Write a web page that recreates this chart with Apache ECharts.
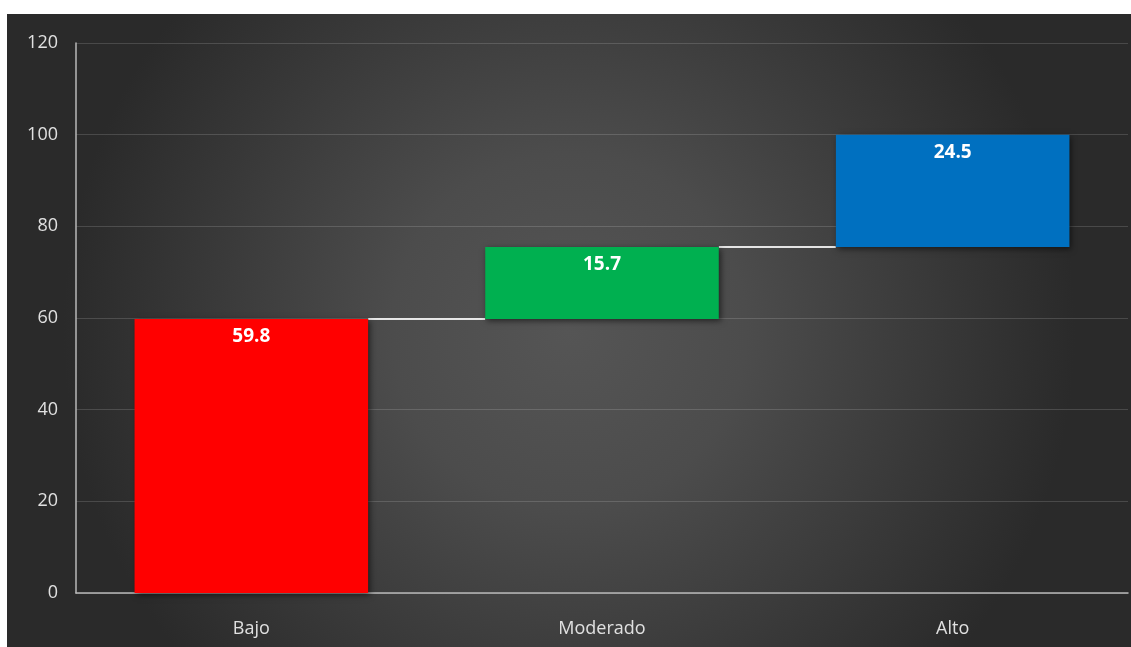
<!DOCTYPE html>
<html>
<head>
<meta charset="utf-8">
<script src="https://cdn.jsdelivr.net/npm/echarts@6/dist/echarts.min.js"></script>
<style>
  html, body { margin: 0; padding: 0; background: #ffffff; }
  #chart { position: absolute; left: 7px; top: 14px; width: 1124px; height: 633px; }
</style>
</head>
<body>
<div id="chart"></div>
<script>
// 数据
var categories = ['Bajo', 'Moderado', 'Alto'];
var values = [59.8, 15.7, 24.5];
var barColors = ['#ff0000', '#00b050', '#0070c0'];
var yTicks = [0, 20, 40, 60, 80, 100, 120];

// 瀑布图底座（累计值）
var base = [];
var sum = 0;
for (var i = 0; i < values.length; i++) {
  base.push(sum);
  sum += values[i];
}
// 连接线：每根柱子顶部
var connectors = [];
for (var j = 0; j < values.length - 1; j++) {
  connectors.push([j, base[j] + values[j]]);
}

function initChart() {
  var myChart = echarts.init(document.getElementById('chart'));
  var font = '"Open Sans", "Noto Sans", sans-serif';
  var option = {
    backgroundColor: new echarts.graphic.RadialGradient(0.5, 0.5, 0.8, [
      { offset: 0, color: '#555555' },
      { offset: 0.35, color: '#4c4c4c' },
      { offset: 1, color: '#2a2a2a' }
    ]),
    animation: false,
    grid: { left: 69, top: 29, right: 3, bottom: 54 },
    xAxis: {
      type: 'category',
      data: categories,
      axisTick: { show: false },
      axisLine: { lineStyle: { color: '#b8b8b8', width: 1.5 } },
      axisLabel: { color: '#e0e0e0', fontSize: 18, fontFamily: font, margin: 27 }
    },
    yAxis: {
      type: 'value',
      min: yTicks[0],
      max: yTicks[yTicks.length - 1],
      interval: 20,
      axisLine: { show: true, lineStyle: { color: '#b8b8b8', width: 1.5 } },
      axisTick: { show: false },
      splitLine: { lineStyle: { color: 'rgba(255,255,255,0.15)', width: 1 } },
      axisLabel: { color: '#e0e0e0', fontSize: 18, fontFamily: font, margin: 18 }
    },
    series: [
      {
        name: 'base',
        type: 'bar',
        stack: 'w',
        barCategoryGap: '33.4%',
        itemStyle: { color: 'rgba(0,0,0,0)' },
        silent: true,
        data: base
      },
      {
        name: 'valor',
        type: 'bar',
        stack: 'w',
        barCategoryGap: '33.4%',
        data: values.map(function (v, k) {
          return {
            value: v,
            itemStyle: {
              color: barColors[k],
              shadowColor: 'rgba(0,0,0,0.55)',
              shadowBlur: 6,
              shadowOffsetX: 2,
              shadowOffsetY: 2
            }
          };
        }),
        label: {
          show: true,
          position: 'insideTop',
          distance: 8,
          color: '#ffffff',
          fontSize: 19,
          fontWeight: 'bold',
          fontFamily: font
        }
      },
      {
        name: 'linea',
        type: 'custom',
        silent: true,
        z: 1,
        data: connectors,
        renderItem: function (params, api) {
          var p = api.coord([api.value(0), api.value(1)]);
          var band = api.size([1, 0])[0];
          return {
            type: 'line',
            shape: { x1: p[0] + band / 3, y1: p[1], x2: p[0] + band * 2 / 3, y2: p[1] },
            style: { stroke: 'rgba(255,255,255,0.85)', lineWidth: 2 }
          };
        }
      }
    ]
  };
  myChart.setOption(option);
  window.addEventListener('resize', function () {
    myChart.resize();
  });
}
initChart();
</script>
</body>
</html>
